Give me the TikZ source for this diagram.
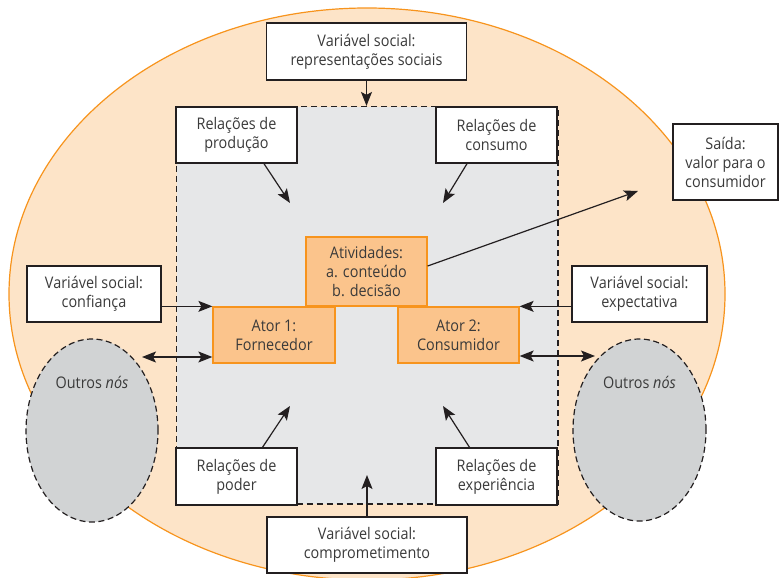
\documentclass[tikz,border=0pt]{standalone}
\usepackage{fontspec}
\setmainfont{Open Sans}[FakeStretch=0.9]
\usetikzlibrary{arrows.meta,shapes.geometric,calc}
\definecolor{peach}{HTML}{FDE4C8}
\definecolor{orng}{HTML}{F7941D}
\definecolor{zonegray}{HTML}{E6E7E8}
\definecolor{boxorange}{HTML}{FBC48C}
\definecolor{nodegray}{HTML}{D1D3D4}
\definecolor{ink}{HTML}{231F20}
\definecolor{txt}{HTML}{3A3A3A}
\tikzset{
  every node/.style={font=\fontsize{16}{19}\selectfont, text=txt, align=center, inner sep=0pt},
  wbox/.style={draw=ink, line width=1.4pt, fill=white, rectangle},
  obox/.style={draw=orng, line width=1.3pt, fill=boxorange, rectangle},
  arr/.style={draw=ink, line width=1.2pt, -{Stealth[length=14pt,width=11pt,inset=3pt]}},
  darr/.style={draw=ink, line width=1.2pt, {Stealth[length=14pt,width=11pt,inset=3pt]}-{Stealth[length=14pt,width=11pt,inset=3pt]}},
  othernode/.style={ellipse, draw=ink, dash pattern=on 6pt off 3.5pt, line width=1.2pt, fill=nodegray},
}
\begin{document}
\begin{tikzpicture}[x=1pt,y=-1pt]
\useasboundingbox (0,0) rectangle (782,578);
% big ellipse
\draw[fill=peach, draw=orng, line width=1.2pt] (367,294) ellipse [x radius=358, y radius=286];
% gray zone
\node[draw=ink, dash pattern=on 6pt off 4pt, line width=1.2pt, fill=zonegray, minimum width=381.5pt, minimum height=397.5pt] (zone) at (367.25,305.25) {};
% other nodes
\node[othernode, minimum width=132pt, minimum height=183pt] (onl) at (92,430.5) {};
\node[othernode, minimum width=133pt, minimum height=182pt] (onr) at (639.5,430) {};
\node at (92,382) {Outros \textit{nós}};
\node at (639.5,382) {Outros \textit{nós}};
% white boxes
\node[wbox, minimum width=200pt, minimum height=57pt] (top) at (366.5,51.5) {Variável social:\\representações sociais};
\node[wbox, minimum width=121pt, minimum height=56pt] (prod) at (236.5,135) {Relações de\\produção};
\node[wbox, minimum width=121pt, minimum height=56pt] (cons) at (496.5,135) {Relações de\\consumo};
\node[wbox, minimum width=105pt, minimum height=76pt] (saida) at (725.5,162) {Saída:\\valor para o\\consumidor};
\node[wbox, minimum width=134pt, minimum height=56pt] (conf) at (94,294) {Variável social:\\confiança};
\node[wbox, minimum width=135pt, minimum height=56pt] (expe) at (639.5,294) {Variável social:\\expectativa};
\node[wbox, minimum width=121pt, minimum height=57pt] (poder) at (236.5,476.5) {Relações de\\poder};
\node[wbox, minimum width=121pt, minimum height=57pt] (expr) at (496.5,476.5) {Relações de\\experiência};
\node[wbox, minimum width=200pt, minimum height=56pt] (comp) at (367,545) {Variável social:\\comprometimento};
% orange boxes
\node[obox, minimum width=121pt, minimum height=69pt] (ativ) at (366.5,271.5) {Atividades:\\a. conteúdo\\b. decisão};
\node[obox, minimum width=122pt, minimum height=56pt] (ator1) at (274,335) {Ator 1:\\Fornecedor};
\node[obox, minimum width=121pt, minimum height=56pt] (ator2) at (458.5,335) {Ator 2:\\Consumidor};
% free ends
\coordinate (pe) at (290,203);
\coordinate (ce) at (443,203);
\coordinate (poe) at (290,406);
\coordinate (ee) at (443,406);
\coordinate (me) at (367,475);
\coordinate (se) at (638,191);
\coordinate (le) at (142,357);
\coordinate (re) at (595,356);
% connectors
\draw[arr] (top.south) -- (top.south |- zone.north);
\draw[arr] ([xshift=27.5pt]prod.south) -- (pe);
\draw[arr] ([xshift=-29.5pt]cons.south) -- (ce);
\draw[arr] ([xshift=26pt]poder.north) -- (poe);
\draw[arr] ([xshift=-27pt]expr.north) -- (ee);
\draw[arr] (comp.north) -- (me);
\draw[arr] ([yshift=5.5pt]ativ.east) -- (se);
\draw[arr] (conf.east |- ator1.north west) -- (ator1.north west);
\draw[arr] (expe.west |- ator2.north east) -- (ator2.north east);
\draw[darr] (le) -- ([yshift=-22pt]ator1.west);
\draw[darr] ([yshift=-21pt]ator2.east) -- (re);
\end{tikzpicture}
\end{document}
